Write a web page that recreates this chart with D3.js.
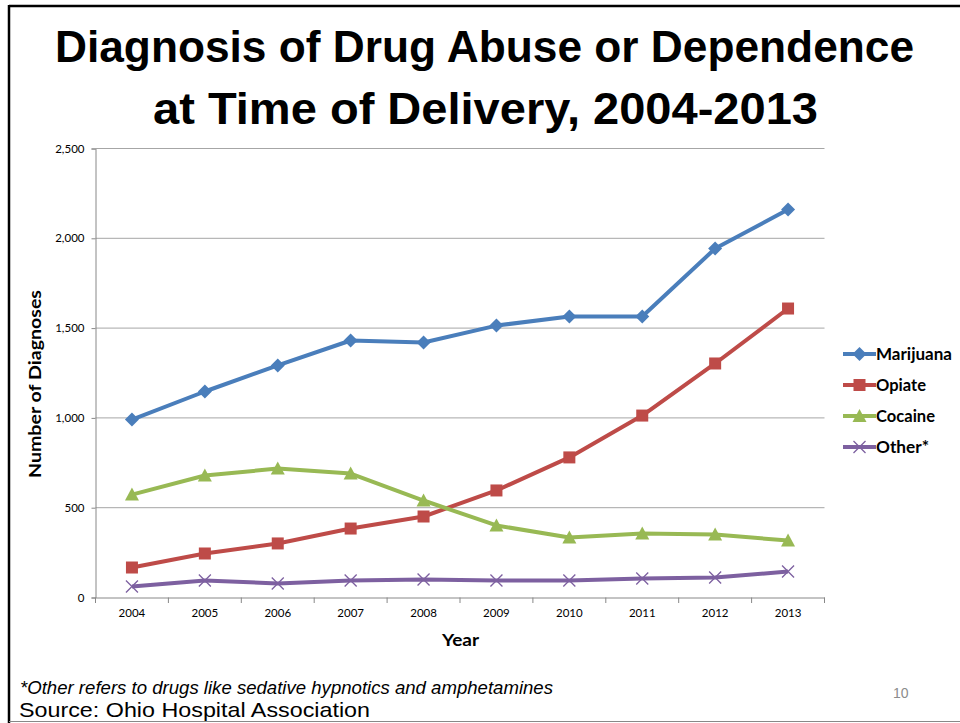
<!DOCTYPE html>
<html>
<head>
<meta charset="utf-8">
<script src="https://cdn.jsdelivr.net/npm/d3@7"></script>
<style>
  html, body { margin: 0; padding: 0; background: #fff; }
  svg { display: block; }
</style>
</head>
<body>
<svg id="chart" width="960" height="723"></svg>
<script>
// Diagnoses at time of delivery, Ohio, 2004-2013
const years = ["2004","2005","2006","2007","2008","2009","2010","2011","2012","2013"];
const marijuana = [991, 1147, 1292, 1431, 1420, 1514, 1565, 1565, 1943, 2160];
const opiate    = [167, 245, 301, 384, 451, 596, 780, 1013, 1303, 1609];
const cocaine   = [573, 679, 718, 690, 540, 401, 334, 356, 351, 317];
const other     = [61, 95, 78, 95, 100, 95, 95, 106, 111, 145];
const yTicks = [0, 500, 1000, 1500, 2000, 2500];
const seriesNames = ["Marijuana", "Opiate", "Cocaine", "Other*"];

const series = [
  { name: seriesNames[0], values: marijuana, color: "#4A7EBB", marker: "diamond" },
  { name: seriesNames[1], values: opiate,    color: "#BE4B48", marker: "square" },
  { name: seriesNames[2], values: cocaine,   color: "#98B954", marker: "triangle" },
  { name: seriesNames[3], values: other,     color: "#7D60A0", marker: "cross" }
];

const svg = d3.select("#chart");
const font = "'Liberation Sans', Arial, sans-serif";
const narrow = "'Liberation Sans Narrow', 'Arial Narrow', 'Liberation Sans', sans-serif";
const tickFont = "Lato, 'Open Sans', sans-serif";

// slide frame
svg.append("line").attr("x1", 9).attr("x2", 960).attr("y1", 6).attr("y2", 6)
  .attr("stroke", "#000").attr("stroke-width", 2.5);
svg.append("line").attr("x1", 9).attr("x2", 9).attr("y1", 5).attr("y2", 723)
  .attr("stroke", "#000").attr("stroke-width", 2.5);
svg.append("line").attr("x1", 9).attr("x2", 960).attr("y1", 721.5).attr("y2", 721.5)
  .attr("stroke", "#888").attr("stroke-width", 1);

// title
const title = svg.append("text").attr("text-anchor", "middle")
  .attr("font-family", font).attr("font-weight", "bold").attr("font-size", 44).attr("fill", "#000");
title.append("tspan").attr("x", 484.5).attr("y", 62)
  .attr("textLength", 859).attr("lengthAdjust", "spacingAndGlyphs")
  .text("Diagnosis of Drug Abuse or Dependence");
title.append("tspan").attr("x", 485.5).attr("y", 124)
  .attr("textLength", 665).attr("lengthAdjust", "spacingAndGlyphs")
  .text("at Time of Delivery, 2004-2013");

// scales
const x = d3.scaleBand().domain(years).range([95.5, 824.5]);
const y = d3.scaleLinear().domain([0, 2500]).range([597.5, 148.5]);
const cx = d => x(d) + x.bandwidth() / 2;

// gridlines
svg.append("g").selectAll("line").data(yTicks.filter(t => t > 0)).join("line")
  .attr("x1", 95.5).attr("x2", 824.5)
  .attr("y1", d => y(d)).attr("y2", d => y(d))
  .attr("stroke", "#A6A6A6").attr("stroke-width", 1);

// y axis
const yAxis = svg.append("g").attr("transform", "translate(95.5,0)")
  .call(d3.axisLeft(y).tickValues(yTicks).tickSize(4).tickPadding(7).tickFormat(d3.format(",")));
yAxis.select(".domain").attr("stroke", "#888");
yAxis.selectAll(".tick line").attr("stroke", "#888");
yAxis.selectAll("text").attr("font-family", tickFont).attr("font-size", 11.5).attr("fill", "#000");

// x axis
const xAxis = svg.append("g").attr("transform", "translate(0,597.5)")
  .call(d3.axisBottom(x).tickSize(0).tickPadding(11));
xAxis.select(".domain").attr("stroke", "#888");
xAxis.selectAll("text").attr("font-family", tickFont).attr("font-size", 11.5).attr("fill", "#000");
svg.append("g").selectAll("line").data(d3.range(years.length + 1)).join("line")
  .attr("x1", i => 95.5 + i * x.step()).attr("x2", i => 95.5 + i * x.step())
  .attr("y1", 597.5).attr("y2", 603)
  .attr("stroke", "#888");

// axis titles
svg.append("text").attr("transform", "translate(41,384) rotate(-90)")
  .attr("text-anchor", "middle").attr("font-family", tickFont).attr("font-weight", "bold")
  .attr("font-size", 17).attr("textLength", 188).attr("lengthAdjust", "spacingAndGlyphs")
  .text("Number of Diagnoses");
svg.append("text").attr("x", 460.5).attr("y", 646)
  .attr("text-anchor", "middle").attr("font-family", tickFont).attr("font-weight", "bold")
  .attr("font-size", 17).attr("textLength", 37).attr("lengthAdjust", "spacingAndGlyphs")
  .text("Year");

// markers
function drawMarker(g, type, color, px, py) {
  if (type === "diamond") {
    g.append("path").attr("d", `M${px},${py-7}L${px+7},${py}L${px},${py+7}L${px-7},${py}Z`).attr("fill", color);
  } else if (type === "square") {
    g.append("rect").attr("x", px - 6).attr("y", py - 6).attr("width", 12).attr("height", 12).attr("fill", color);
  } else if (type === "triangle") {
    g.append("path").attr("d", `M${px},${py-7}L${px+7},${py+6}L${px-7},${py+6}Z`).attr("fill", color);
  } else {
    g.append("path").attr("d", `M${px-6},${py-6}L${px+6},${py+6}M${px-6},${py+6}L${px+6},${py-6}`)
      .attr("stroke", color).attr("stroke-width", 1.3).attr("fill", "none");
  }
}

const line = d3.line().x((d, i) => cx(years[i])).y(d => y(d));
const plot = svg.append("g");
series.forEach(s => {
  const g = plot.append("g");
  g.append("path").attr("d", line(s.values)).attr("fill", "none")
    .attr("stroke", s.color).attr("stroke-width", 4).attr("stroke-linejoin", "round");
  s.values.forEach((v, i) => drawMarker(g, s.marker, s.color, cx(years[i]), y(v)));
});

// legend
const legendWidths = [76, 50, 59, 53];
const legend = svg.append("g");
series.forEach((s, i) => {
  const ly = 354 + i * 31;
  legend.append("line").attr("x1", 843).attr("x2", 876).attr("y1", ly).attr("y2", ly)
    .attr("stroke", s.color).attr("stroke-width", 4);
  drawMarker(legend, s.marker, s.color, 859.5, ly);
  legend.append("text").attr("x", 876).attr("y", ly + 6)
    .attr("font-family", tickFont).attr("font-weight", "bold").attr("font-size", 17)
    .attr("textLength", legendWidths[i]).attr("lengthAdjust", "spacingAndGlyphs")
    .attr("fill", "#000").text(s.name);
});

// notes
svg.append("text").attr("x", 20).attr("y", 694).attr("font-family", narrow)
  .attr("font-style", "italic").attr("font-size", 18).attr("fill", "#000")
  .attr("textLength", 533).attr("lengthAdjust", "spacingAndGlyphs")
  .text("*Other refers to drugs like sedative hypnotics and amphetamines");
svg.append("text").attr("x", 19).attr("y", 717).attr("font-family", narrow)
  .attr("font-size", 21).attr("fill", "#000")
  .attr("textLength", 351).attr("lengthAdjust", "spacingAndGlyphs")
  .text("Source: Ohio Hospital Association");
svg.append("text").attr("x", 893).attr("y", 698).attr("font-family", narrow)
  .attr("font-size", 14).attr("fill", "#8C8C8C").text("10");
</script>
</body>
</html>
